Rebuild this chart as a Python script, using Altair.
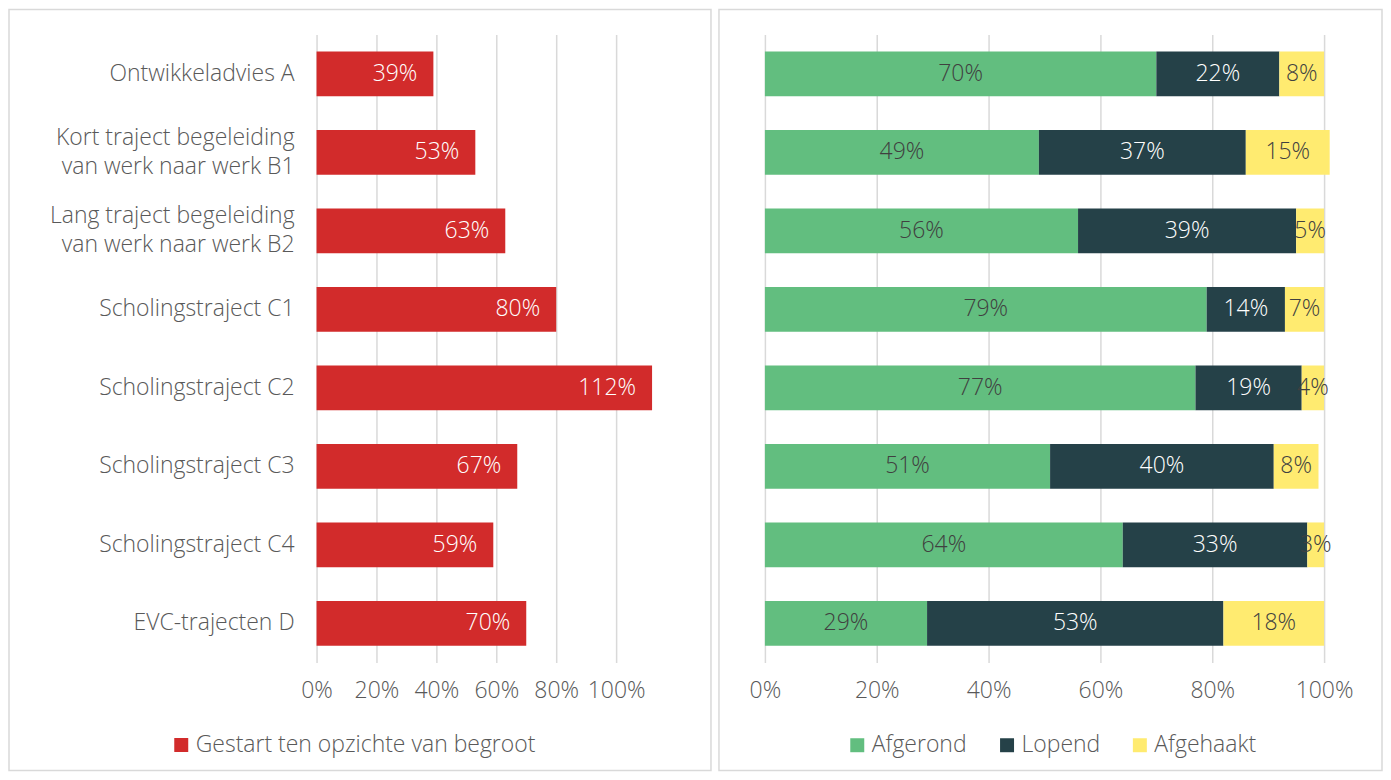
import altair as alt
import pandas as pd

categories = [
    "Ontwikkeladvies A",
    "Kort traject begeleiding\nvan werk naar werk B1",
    "Lang traject begeleiding\nvan werk naar werk B2",
    "Scholingstraject C1",
    "Scholingstraject C2",
    "Scholingstraject C3",
    "Scholingstraject C4",
    "EVC-trajecten D",
]
gestart = [0.39, 0.53, 0.63, 0.80, 1.12, 0.67, 0.59, 0.70]
left_series = "Gestart ten opzichte van begroot"

statuses = ["Afgerond", "Lopend", "Afgehaakt"]
afgerond = [0.70, 0.49, 0.56, 0.79, 0.77, 0.51, 0.64, 0.29]
lopend = [0.22, 0.37, 0.39, 0.14, 0.19, 0.40, 0.33, 0.53]
afgehaakt = [0.08, 0.15, 0.05, 0.07, 0.04, 0.08, 0.03, 0.18]

RED = "#D22B2B"
GREEN = "#62BE7F"
DARK = "#254148"
YELLOW = "#FFEB70"
GRID = "#D9D9D9"
TXT = "#595959"
FONT = "Open Sans"
FW = 300
FS = 23

PH = 629

left_df = pd.DataFrame({"cat": categories, "value": gestart, "series": left_series})
rows = []
for i, c in enumerate(categories):
    for j, (s, vals) in enumerate(zip(statuses, [afgerond, lopend, afgehaakt])):
        rows.append({"cat": c, "status": s, "value": vals[i], "order": j})
right_df = pd.DataFrame(rows)
one = pd.DataFrame({"a": [0]})

yscale = alt.Scale(domain=categories, paddingInner=0.43, paddingOuter=0.215)

def xaxis():
    return alt.Axis(
        values=[0, 0.2, 0.4, 0.6, 0.8, 1.0], format=".0%", title=None,
        grid=True, gridColor=GRID, gridWidth=1.5, domain=False, ticks=False,
        labelFontSize=FS, labelColor=TXT, labelFont=FONT, labelFontWeight=FW,
        labelPadding=17, labelFlush=False,
    )

def legend(x, horizontal=False):
    kw = dict(
        orient="none", legendX=x, legendY=700, title=None,
        symbolType="square", symbolSize=196, symbolStrokeWidth=0,
        labelFontSize=FS, labelColor=TXT, labelFont=FONT, labelFontWeight=FW,
        labelOffset=3, padding=0, labelLimit=600,
    )
    if horizontal:
        kw.update(direction="horizontal", columnPadding=28)
    return alt.Legend(**kw)

# ---------- left panel ----------
left_bars = alt.Chart(left_df).mark_bar().encode(
    x=alt.X("value:Q", scale=alt.Scale(domain=[0, 1.2], nice=False), axis=xaxis()),
    y=alt.Y("cat:N", scale=yscale, sort=categories, axis=None),
    color=alt.Color(
        "series:N", scale=alt.Scale(domain=[left_series], range=[RED]),
        legend=legend(-147),
    ),
)
left_text = alt.Chart(left_df).mark_text(
    align="right", baseline="middle", dx=-16, color="white",
    fontSize=FS, font=FONT, fontWeight=FW,
).encode(
    x="value:Q", y=alt.Y("cat:N", sort=categories),
    text=alt.Text("value:Q", format=".0%"),
)
cat_base = alt.Chart(left_df).transform_calculate(
    nlines="length(split(datum.cat, '\\n'))"
)
cat_single = cat_base.transform_filter("datum.nlines == 1").mark_text(
    align="right", baseline="middle", color=TXT, fontSize=FS, font=FONT, fontWeight=FW,
).encode(x=alt.value(-22), y=alt.Y("cat:N", sort=categories), text="cat:N")
cat_double = cat_base.transform_filter("datum.nlines == 2").mark_text(
    align="right", baseline="middle", color=TXT, fontSize=FS, font=FONT, fontWeight=FW,
    lineBreak="\n", lineHeight=29, dy=-14.5,
).encode(x=alt.value(-22), y=alt.Y("cat:N", sort=categories), text="cat:N")

left_border = alt.Chart(one).mark_rect(fillOpacity=0, stroke=GRID, strokeWidth=1.5).encode(
    x=alt.value(-308), x2=alt.value(395), y=alt.value(-25), y2=alt.value(737)
)
left = alt.layer(left_border, left_bars, left_text, cat_single, cat_double).properties(
    width=360, height=PH
)

# ---------- right panel ----------
rbase = alt.Chart(right_df).transform_stack(
    stack="value", as_=["v0", "v1"], groupby=["cat"], sort=[alt.SortField("order")]
).transform_calculate(mid="(datum.v0 + datum.v1) / 2")

right_bars = rbase.mark_bar().encode(
    x=alt.X("v0:Q", scale=alt.Scale(domain=[0, 1], nice=False), axis=xaxis()),
    x2="v1:Q",
    y=alt.Y("cat:N", scale=yscale, sort=categories, axis=None),
    color=alt.Color(
        "status:N", scale=alt.Scale(domain=statuses, range=[GREEN, DARK, YELLOW]),
        legend=legend(81, horizontal=True),
    ),
)
right_text = rbase.mark_text(baseline="middle", fontSize=FS, font=FONT, fontWeight=FW).encode(
    x="mid:Q",
    y=alt.Y("cat:N", sort=categories),
    text=alt.Text("value:Q", format=".0%"),
    color=alt.condition(alt.datum.status == "Lopend", alt.value("white"), alt.value("#404040")),
)
right_border = alt.Chart(one).mark_rect(fillOpacity=0, stroke=GRID, strokeWidth=1.5).encode(
    x=alt.value(-46), x2=alt.value(618), y=alt.value(-25), y2=alt.value(737)
)
right = alt.layer(right_border, right_bars, right_text).properties(width=560, height=PH)

chart = alt.hconcat(left, right, spacing=6).properties(
    padding=0, background="white"
).configure_view(strokeWidth=0).resolve_scale(color="independent", x="independent")

chart.save("out.html", embed_options={"renderer": "svg", "actions": False})
